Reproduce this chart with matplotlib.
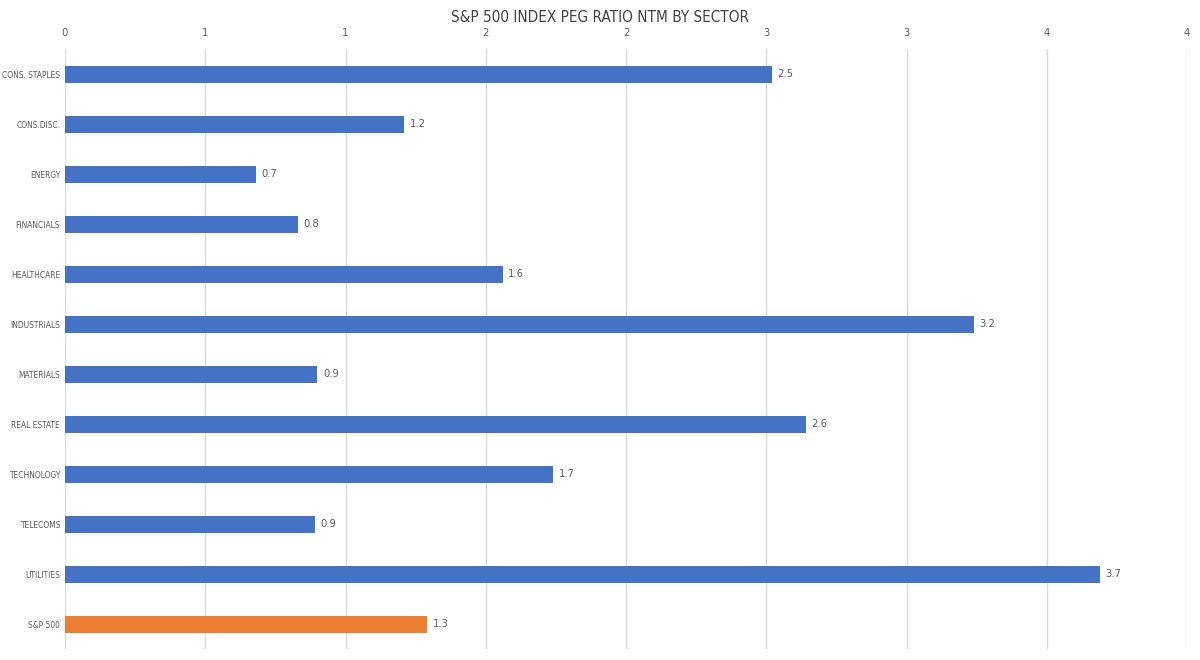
import matplotlib.pyplot as plt
from matplotlib.ticker import FuncFormatter

# data
sectors = ["CONS. STAPLES", "CONS.DISC.", "ENERGY", "FINANCIALS", "HEALTHCARE",
           "INDUSTRIALS", "MATERIALS", "REAL ESTATE", "TECHNOLOGY", "TELECOMS",
           "UTILITIES", "S&P 500"]
peg_ratio = [2.52, 1.21, 0.68, 0.83, 1.56, 3.24, 0.90, 2.64, 1.74, 0.89, 3.69, 1.29]
bar_colors = ["#4472c4"] * 11 + ["#ed7d31"]

plt.rcParams["font.family"] = ["DejaVu Sans"]
plt.rcParams["font.stretch"] = "condensed"
grey = "#595959"

fig = plt.figure(figsize=(12, 6.6), dpi=100)
ax = fig.add_axes([65 / 1200, 11 / 660, 1122 / 1200, 600 / 660])

ypos = list(range(len(sectors)))
bars = ax.barh(ypos, peg_ratio, height=0.34, color=bar_colors, zorder=3)

ax.set_ylim(len(sectors) - 0.5, -0.5)
ax.set_xlim(0, 4)
ax.set_yticks(ypos)
ax.set_yticklabels(sectors, fontsize=6, color=grey)
ax.set_xticks([i * 0.5 for i in range(9)])
ax.xaxis.set_major_formatter(FuncFormatter(lambda v, p: f"{int(v + 0.5)}"))
ax.xaxis.tick_top()
ax.tick_params(axis="x", length=0, labelsize=8, labelcolor=grey, pad=8)
ax.tick_params(axis="y", length=0, pad=3.5)
ax.grid(axis="x", color="#d9d9d9", linewidth=1, zorder=0)
for s in ax.spines.values():
    s.set_visible(False)

# value labels at the bar ends
for bar, v in zip(bars, peg_ratio):
    ax.text(bar.get_width() + 0.02, bar.get_y() + bar.get_height() / 2,
            f"{v:.1f}", va="center", ha="left", fontsize=8, color=grey)

fig.text(0.5, 0.974, "S&P 500 INDEX PEG RATIO NTM BY SECTOR", ha="center", va="center",
         fontsize=11, color="#404040")

fig.savefig("out.png", dpi=100)
